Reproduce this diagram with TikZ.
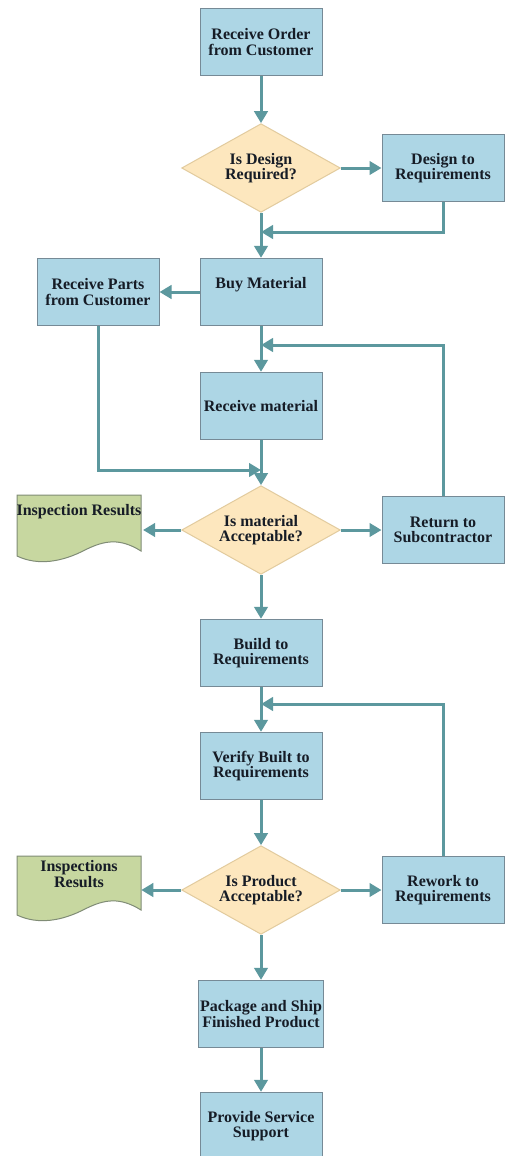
\documentclass[tikz,border=0pt]{standalone}
\usepackage{fontspec}
\setmainfont{Liberation Serif}
\usetikzlibrary{shapes.geometric,arrows.meta}

\definecolor{boxblue}{RGB}{173,214,229}
\definecolor{boxline}{RGB}{118,138,150}
\definecolor{decfill}{RGB}{253,231,190}
\definecolor{decline}{RGB}{226,203,158}
\definecolor{docgreen}{RGB}{199,215,160}
\definecolor{docline}{RGB}{128,140,118}
\definecolor{flow}{RGB}{92,152,158}
\definecolor{ink}{RGB}{22,28,38}

\tikzset{
  procbox/.style={rectangle, draw=boxline, fill=boxblue, line width=0.75pt,
    minimum width=91.5pt, minimum height=50.5pt, inner sep=1pt, align=center,
    font=\fontsize{12}{11.5}\selectfont\bfseries, text=ink},
  decision/.style={diamond, draw=decline, fill=decfill, line width=0.75pt,
    aspect=1.8, inner sep=0pt, minimum width=119pt, minimum height=66.5pt,
    align=center, font=\fontsize{12}{11.5}\selectfont\bfseries, text=ink},
  docnode/.style={rectangle, inner sep=1pt, minimum width=93pt, align=center,
    font=\fontsize{12}{11.5}\selectfont\bfseries, text=ink},
  docshape/.style={draw=docline, fill=docgreen, line width=0.75pt},
  flowline/.style={draw=flow, line width=2.25pt, -{Triangle[length=9pt,width=10pt]}}
}

\begin{document}
\begin{tikzpicture}[x=0.75pt,y=0.75pt,yscale=-1,xscale=1]
\path[use as bounding box, fill=white] (0,0) rectangle (504,1156);

%Shape: Document [insp1]
\path[docshape] (17,495) -- (141,495) -- (141,551) .. controls (120,538) and (105,540) .. (85,550) .. controls (62,562) and (38,566) .. (17,556) -- cycle;
%Shape: Document [insp2]
\path[docshape] (17,856) -- (141,856) -- (141,910) .. controls (120,897) and (105,899) .. (85,909) .. controls (62,921) and (38,925) .. (17,915) -- cycle;

% Process and decision nodes
\node[procbox] (order) at (261,42) {Receive Order\\from Customer};
\node[decision] (dq) at (261,168) {Is Design\\Required?};
\node[procbox] (dreq) at (443,168) {Design to\\Requirements};
\node[procbox, text depth=14pt] (buy) at (261,292) {Buy Material};
\node[procbox] (parts) at (98,292) {Receive Parts\\from Customer};
\node[procbox] (recv) at (261,406) {Receive material};
\node[decision] (matok) at (261,530) {Is material\\Acceptable?};
\node[docnode] (insp1) at (79,512) {Inspection Results};
\node[procbox] (ret) at (443,530) {Return to\\Subcontractor};
\node[procbox] (build) at (261,653) {Build to\\Requirements};
\node[procbox] (verify) at (261,766) {Verify Built to\\Requirements};
\node[decision] (prodok) at (261,890) {Is Product\\Acceptable?};
\node[docnode] (insp2) at (79,874) {Inspections\\Results};
\node[procbox] (rework) at (443,890) {Rework to\\Requirements};
\node[procbox] (pack) at (261,1014) {Package and Ship\\Finished Product};
\node[procbox] (serve) at (261,1126) {Provide Service\\Support};

% Junctions on the main line
\coordinate (j1) at (261,232);
\coordinate (j2) at (261,345);
\coordinate (j3) at (261,470);
\coordinate (j4) at (261,704);

%Straight Lines
\draw[flowline] (order) -- (dq);
\draw[flowline] (dq) -- (dreq);
\draw[flowline] (dreq.south) |- (j1);
\draw[flowline] (dq) -- (buy);
\draw[flowline] (buy) -- (parts);
\draw[flowline] (buy) -- (recv);
\draw[flowline] (ret.north) |- (j2);
\draw[flowline] (parts.south) |- (j3);
\draw[flowline] (recv) -- (matok);
\draw[flowline] (matok.west) -- (matok.west -| insp1.east);
\draw[flowline] (matok) -- (ret);
\draw[flowline] (matok) -- (build);
\draw[flowline] (build) -- (verify);
\draw[flowline] (rework.north) |- (j4);
\draw[flowline] (verify) -- (prodok);
\draw[flowline] (prodok.west) -- (prodok.west -| insp2.east);
\draw[flowline] (prodok) -- (rework);
\draw[flowline] (prodok) -- (pack);
\draw[flowline] (pack) -- (serve);

\end{tikzpicture}
\end{document}
